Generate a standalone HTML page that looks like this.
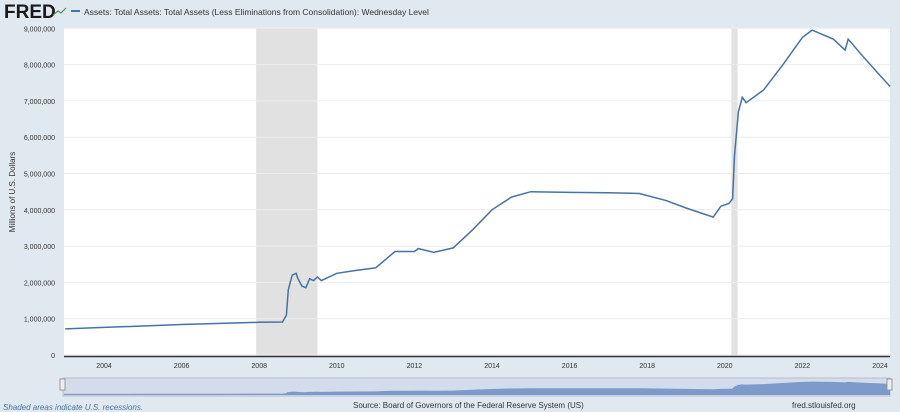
<!DOCTYPE html>
<html><head><meta charset="utf-8"><style>
body{margin:0;width:900px;height:412px;background:#e1e9f0;font-family:"Liberation Sans",sans-serif;overflow:hidden;position:relative}
svg{position:absolute;left:0;top:0}
</style></head><body>
<svg width="900" height="412">
<text x="4" y="18" font-size="19" font-weight="bold" fill="#1a1a1a">FRED</text>
<polyline points="53,15 58,11 61,13 66,8" fill="none" stroke="#5a8a5a" stroke-width="1.2"/>
<line x1="71" y1="11" x2="80" y2="11" stroke="#4572a7" stroke-width="2"/>
<text x="84" y="15" font-size="8.5" fill="#333">Assets: Total Assets: Total Assets (Less Eliminations from Consolidation): Wednesday Level</text>
<rect x="64" y="28" width="826" height="329" fill="#fff"/>
<g id="rec"></g><g id="grid"></g><g id="xt"></g>
<text transform="translate(15,192) rotate(-90)" font-size="8" fill="#333" text-anchor="middle">Millions of U.S. Dollars</text>
<path id="line" fill="none" stroke="#4572a7" stroke-width="1.5"/>
<line x1="64" y1="356.5" x2="890" y2="356.5" stroke="#333" stroke-width="1.5"/>
<rect x="63" y="378" width="827" height="18" fill="#d2dceb" stroke="#bbc"/>
<path id="nav" fill="#6f8fc4" opacity="0.85"/>
<rect x="60" y="379" width="5" height="11" fill="#eee" stroke="#999"/>
<rect x="887" y="379" width="5" height="11" fill="#eee" stroke="#999"/>
<text x="3" y="410" font-size="8" font-style="italic" fill="#4572a7">Shaded areas indicate U.S. recessions.</text>
<text x="353" y="408" font-size="8" fill="#333">Source: Board of Governors of the Federal Reserve System (US)</text>
<text x="792" y="408" font-size="8" fill="#333">fred.stlouisfed.org</text>
</svg>
<script>
const years=[2003.0,2004,2005,2006,2007,2008.0,2008.6,2008.7,2008.75,2008.85,2008.95,2009.0,2009.1,2009.2,2009.3,2009.4,2009.5,2009.6,2009.7,2010.0,2010.5,2011.0,2011.5,2012.0,2012.1,2012.5,2013.0,2013.5,2014.0,2014.5,2015.0,2016,2017,2017.8,2018.5,2019.0,2019.7,2019.9,2020.1,2020.2,2020.25,2020.35,2020.45,2020.55,2021.0,2021.5,2022.0,2022.25,2022.8,2023.1,2023.18,2023.5,2024.0,2024.26];
const values=[0.72,0.76,0.80,0.84,0.87,0.90,0.91,1.1,1.8,2.2,2.25,2.1,1.9,1.85,2.1,2.05,2.15,2.05,2.1,2.25,2.33,2.4,2.85,2.85,2.93,2.83,2.95,3.45,4.0,4.35,4.5,4.48,4.47,4.45,4.25,4.05,3.8,4.1,4.17,4.3,5.5,6.7,7.1,6.95,7.3,8.0,8.75,8.95,8.7,8.4,8.7,8.3,7.7,7.4];
const yTicks=[0,1,2,3,4,5,6,7,8,9];
const xTicks=[2004,2006,2008,2010,2012,2014,2016,2018,2020,2022,2024];
const recStart=[2007.92,2020.17];
const recEnd=[2009.5,2020.33];
const NS="http://www.w3.org/2000/svg";
const x=t=>104+(t-2004)*38.8;
const y=v=>355-v*36.3;
const nx=t=>64+(t-2003)*(826/21.26);
const ny=v=>395-v*1.5;
function mk(tag,parent,at){const e=document.createElementNS(NS,tag);for(const k in at)e.setAttribute(k,at[k]);document.getElementById(parent).appendChild(e);return e;}
recStart.forEach((s,i)=>{const r=mk('rect','rec',{x:x(s),y:28,width:x(recEnd[i])-x(s),height:328,fill:'#e1e1e1'});

});
yTicks.forEach(v=>{const l=mk('line','grid',{x1:64,x2:890,y1:y(v*1),y2:y(v*1),stroke:'#ececec'});


const t=mk('text','grid',{x:55,y:y(v)+3,'font-size':7,fill:'#333','text-anchor':'end'});


t.textContent=v===0?'0':(v*1000000).toLocaleString('en-US');});
xTicks.forEach(v=>{const t=mk('text','xt',{x:x(v),y:368,'font-size':7,fill:'#333','text-anchor':'middle'});


t.textContent=v;
const n=mk('text','xt',{x:nx(v),y:390,'font-size':7,fill:'#9fb0cc','text-anchor':'middle'});


n.textContent=v;});
document.getElementById('line').setAttribute('d',years.map((t,i)=>(i?'L':'M')+x(t).toFixed(1)+','+y(values[i]).toFixed(1)).join(''));
document.getElementById('nav').setAttribute('d','M'+nx(years[0])+',395'+years.map((t,i)=>'L'+nx(t).toFixed(1)+','+ny(values[i]).toFixed(1)).join('')+'L'+nx(years[years.length-1])+',395Z');
</script>
</body></html>
